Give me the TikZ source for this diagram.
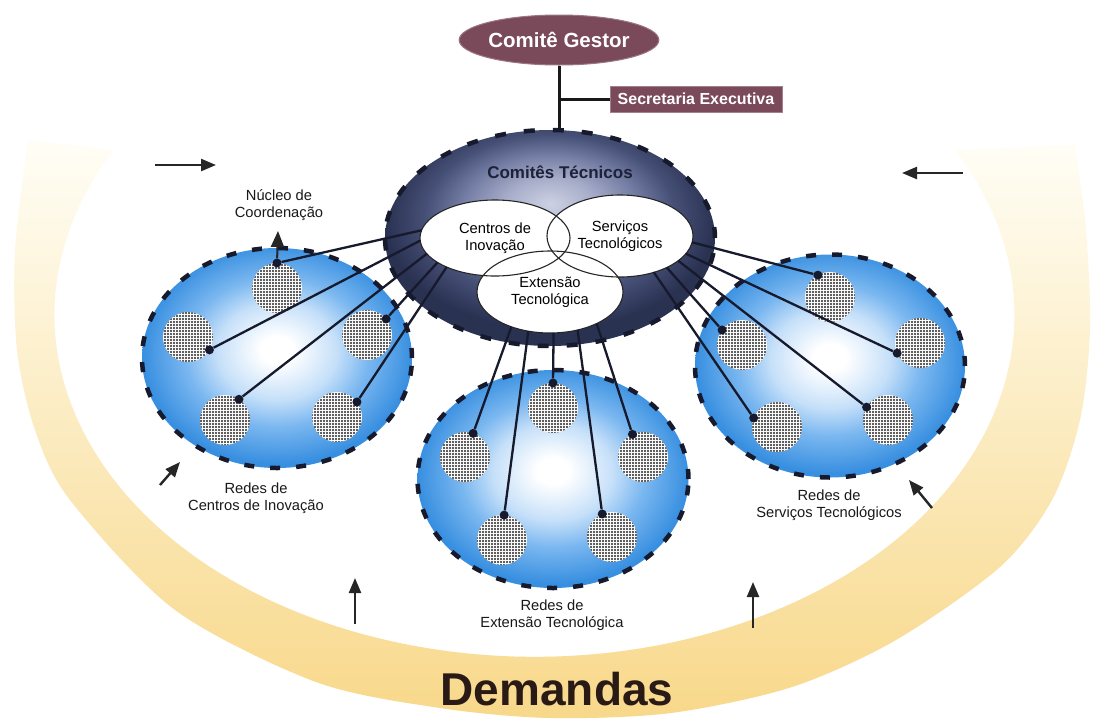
\documentclass[tikz,border=0pt]{standalone}
\usepackage{fontspec}
\setmainfont{Liberation Sans}
\usetikzlibrary{shapes.geometric,arrows.meta,patterns.meta}
\definecolor{mauve}{HTML}{7B4A5A}
\definecolor{ctA}{HTML}{CDD1E4}
\definecolor{ctB}{HTML}{A7ADC9}
\definecolor{ctC}{HTML}{7780A6}
\definecolor{ctD}{HTML}{465076}
\definecolor{ctE}{HTML}{2A3252}
\definecolor{nbA}{HTML}{FFFFFF}
\definecolor{nbB}{HTML}{C6E0F9}
\definecolor{nbC}{HTML}{7AB7F0}
\definecolor{nbD}{HTML}{388FE0}
\definecolor{ytop}{HTML}{FFFEF6}
\definecolor{ymid}{HTML}{FDF0BE}
\definecolor{ybot}{HTML}{F8D88A}
\definecolor{ink}{HTML}{161A2C}
\definecolor{ctText}{HTML}{1E2238}
\definecolor{dmd}{HTML}{2A1A16}
\pgfdeclareradialshading{ctshade}{\pgfpoint{0bp}{8bp}}{color(0bp)=(ctA); color(7bp)=(ctB); color(13bp)=(ctC); color(19bp)=(ctD); color(25bp)=(ctE); color(50bp)=(ctE)}
\pgfdeclareradialshading{netshade}{\pgfpoint{0bp}{2bp}}{color(0bp)=(nbA); color(3bp)=(nbA); color(11bp)=(nbB); color(17bp)=(nbC); color(25bp)=(nbD); color(50bp)=(nbD)}
\begin{document}
\begin{tikzpicture}[x=1pt,y=-1pt,
  lbl/.style={font=\fontsize{14.7}{17}\selectfont, align=center, text=black!90, inner sep=0pt},
  net/.style={ellipse, inner sep=0pt, outer sep=0pt, shade, shading=netshade, draw=ink, line width=4.5pt, dash pattern=on 10pt off 16pt},
  hub/.style={circle, minimum size=50pt, inner sep=0pt, outer sep=0pt, preaction={fill=white}, pattern={Dots[distance=3pt, radius=1.15pt]}, pattern color=black!85},
  hubdot/.style={circle, fill=ink, inner sep=0pt, minimum size=9pt},
  link/.style={draw=ink, line width=2.3pt},
  venn/.style={ellipse, draw=black!85, line width=1.1pt, inner sep=0pt, outer sep=0pt, align=center, font=\fontsize{14.7}{17}\selectfont},
  flow/.style={draw=black!85, line width=2.4pt, -{Triangle[length=15pt,width=12pt]}},
]
\fill[white] (0,0) rectangle (1093,724);
\useasboundingbox (0,0) rectangle (1093,724);

% yellow band
\shade[top color=ytop, middle color=ymid, bottom color=ybot]
  plot[smooth, tension=0.5] coordinates {
  (28,140) (15,250) (17,350) (35,430) (70,500) (175,610) (316,682) (440,708)
  (550,718) (671,713) (792,687) (896,640) (1000,567) (1052,500) (1080,420)
  (1090,330) (1086,230) (1075,145)}
  -- (955,150) arc[start angle=-28.8, end angle=208.8, x radius=480, y radius=342]
  -- cycle;

% arrows
\coordinate (fa1) at (155,165); \coordinate (fb1) at (216,165);
\coordinate (fa2) at (963,173); \coordinate (fb2) at (902,173);
\coordinate (fa3) at (160,485); \coordinate (fb3) at (180,462);
\coordinate (fa4) at (932,508); \coordinate (fb4) at (909,480);
\coordinate (fa5) at (355,624); \coordinate (fb5) at (355,578);
\coordinate (fa6) at (753,628); \coordinate (fb6) at (753,582);
\foreach \i in {1,...,6} { \draw[flow] (fa\i) -- (fb\i); }

% networks
\node[net, minimum width=270pt, minimum height=220pt] (nL) at (277,358) {};
\node[net, minimum width=271pt, minimum height=218pt] (nM) at (553,479) {};
\node[net, minimum width=270pt, minimum height=223pt] (nR) at (830,366) {};

% hubs
\node[hub] (L1) at (277,288) {};
\node[hub] (L2) at (188,337) {};
\node[hub] (L3) at (225,420) {};
\node[hub] (L4) at (367,335) {};
\node[hub] (L5) at (337,417) {};
\node[hub] (M1) at (553,408) {};
\node[hub] (M2) at (465,457) {};
\node[hub] (M3) at (643,457) {};
\node[hub] (M4) at (502,540) {};
\node[hub] (M5) at (612,537) {};
\node[hub] (R1) at (830,297) {};
\node[hub] (R2) at (742,345) {};
\node[hub] (R3) at (920,343) {};
\node[hub] (R4) at (777,427) {};
\node[hub] (R5) at (888,420) {};

% central committee
\node[ellipse, minimum width=330pt, minimum height=216pt, inner sep=0pt, outer sep=0pt, shade, shading=ctshade, draw=ink, line width=4.5pt, dash pattern=on 11pt off 18pt] (ct) at (550,238) {};
\node[font=\fontsize{17}{20}\selectfont\bfseries, text=ctText] (ctt) at (560,172) {Comitês Técnicos};

% top
\node[ellipse, fill=mauve, draw=mauve!75!white, line width=1pt, minimum width=160pt, minimum height=50pt, inner sep=0pt, text=white, font=\fontsize{20.5}{24}\selectfont\bfseries] (cg) at (559,40) {Comitê Gestor};
\node[rectangle, fill=mauve, draw=mauve!70!white, line width=1pt, minimum width=172pt, minimum height=26pt, inner sep=0pt, text=white, font=\fontsize{16}{18}\selectfont\bfseries] (se) at (696,99) {Secretaria Executiva};
\draw[line width=3pt, black!90] (cg.south) -- (cg.south |- ct.north);
\draw[line width=3pt, black!90] (se.west) -- (se.west -| cg.south);

% venn
\fill[white] (495,238) ellipse [x radius=75, y radius=38];
\fill[white] (620,236) ellipse [x radius=73, y radius=41];
\fill[white] (550,292) ellipse [x radius=73, y radius=41];
\node[venn, minimum width=150pt, minimum height=76pt] (ci) at (495,238) {Centros de\\Inovação};
\node[venn, minimum width=146pt, minimum height=82pt] (sv) at (620,236) {Serviços\\Tecnológicos};
\node[venn, minimum width=146pt, minimum height=82pt] (ex) at (550,292) {Extensão\\Tecnológica};

% dots
\node[hubdot] (dL1) at (L1.90) {};
\node[hubdot] (dL2) at (L2.329) {};
\node[hubdot] (dL3) at (L3.56) {};
\node[hubdot] (dL4) at (L4.40) {};
\node[hubdot] (dL5) at (L5.37) {};
\node[hubdot] (dM1) at (M1.90) {};
\node[hubdot] (dM2) at (M2.71) {};
\node[hubdot] (dM3) at (M3.115) {};
\node[hubdot] (dM4) at (M4.85) {};
\node[hubdot] (dM5) at (M5.113) {};
\node[hubdot] (dR1) at (R1.119) {};
\node[hubdot] (dR2) at (R2.143) {};
\node[hubdot] (dR3) at (R3.204) {};
\node[hubdot] (dR4) at (R4.159) {};
\node[hubdot] (dR5) at (R5.149) {};

% links
\draw[link] (ci.174) -- (dL1);
\draw[link] (ci.182) -- (dL2);
\draw[link] (ci.193) -- (dL3);
\draw[link] (ci.203) -- (dL4);
\draw[link] (ci.211) -- (dL5);
\draw[link] (ex.222) -- (dM2);
\draw[link] (ex.241) -- (dM4);
\draw[link] (ex.275) -- (dM1);
\draw[link] (ex.306) -- (dM5);
\draw[link] (ex.326) -- (dM3);
\draw[link] (sv.355) -- (dR1);
\draw[link] (sv.345) -- (dR3);
\draw[link] (sv.337) -- (dR5);
\draw[link] (sv.326) -- (dR2);
\draw[link] (sv.313) -- (dR4);

% labels
\node[lbl] (nc) at (279,205) {Núcleo de\\Coordenação};
\coordinate (nctip) at (278,231);
\draw[flow, line width=2pt, -{Triangle[length=16pt,width=13pt]}] (dL1) -- (nctip);
\node[lbl] (rci) at (256,498) {Redes de\\Centros de Inovação};
\node[lbl] (rex) at (552,615) {Redes de\\Extensão Tecnológica};
\node[lbl] (rsv) at (829,505) {Redes de\\Serviços Tecnológicos};
\node[font=\fontsize{46}{50}\selectfont\bfseries, text=dmd, anchor=base] (dm) at (557,705) {Demandas};
\end{tikzpicture}
\end{document}
